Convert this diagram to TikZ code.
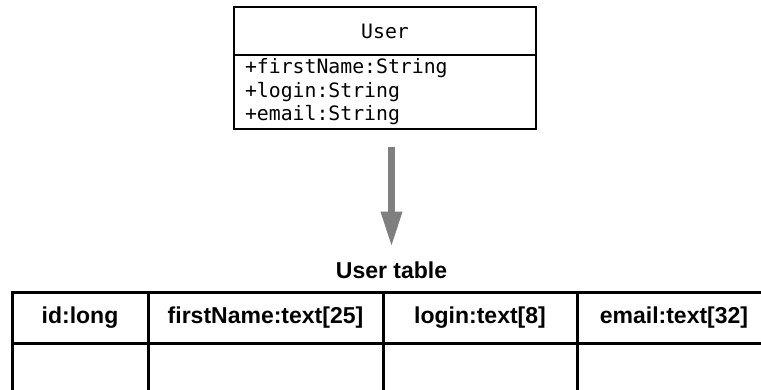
\documentclass[tikz,border=0pt]{standalone}
\usepackage{fontspec}
\setmainfont{Liberation Sans}
\newfontfamily\umlmono{DejaVu Sans Mono}
\usetikzlibrary{arrows.meta}
\definecolor{arrgray}{HTML}{7F7F7F}
\tikzset{
  umlbox/.style={draw=black, line width=2pt, minimum width=302pt, inner sep=0pt},
  umlfont/.style={font=\umlmono\fontsize{19.8}{23.5}\selectfont},
  hdrcell/.style={draw=black, line width=3pt, minimum height=51pt, inner sep=0pt,
    font=\bfseries\fontsize{23}{27}\selectfont},
  bodycell/.style={draw=black, line width=3pt, minimum height=57pt, inner sep=0pt},
  bigarrow/.style={draw=arrgray, line width=6.7pt, -{Triangle[width=20pt,length=35pt]}, arrgray},
  titlefont/.style={font=\bfseries\fontsize{23}{27}\selectfont, inner sep=0pt}
}
\begin{document}
\begin{tikzpicture}[x=1pt,y=-1pt]
\clip (0,0) rectangle (761,389);
\fill[white] (0,0) rectangle (761,389);
% UML class
\node[umlbox, umlfont, minimum height=48pt] (uname) at (385,31) {User};
\node[umlbox, umlfont, minimum height=74pt, text width=280pt, align=left, inner xsep=11pt] (uattrs) at (385,92)
  {+firstName:String\\+login:String\\+email:String};
% title
\node[titlefont, anchor=base] (title) at (391.5,278.5) {User table};
% arrow
\draw[bigarrow, shorten <=17pt, shorten >=15pt] (uattrs.south -| title.north) -- (title.north);
% table header
\node[hdrcell, minimum width=136pt] (h1) at (80,317.5) {id:long};
\node[hdrcell, minimum width=235pt] (h2) at (265.5,317.5) {firstName:text[25]};
\node[hdrcell, minimum width=194pt] (h3) at (480,317.5) {login:text[8]};
\node[hdrcell, minimum width=194pt] (h4) at (674,317.5) {email:text[32]};
% table body
\node[bodycell, minimum width=136pt] (b1) at (80,371.5) {};
\node[bodycell, minimum width=235pt] (b2) at (265.5,371.5) {};
\node[bodycell, minimum width=194pt] (b3) at (480,371.5) {};
\node[bodycell, minimum width=194pt] (b4) at (674,371.5) {};
\end{tikzpicture}
\end{document}
